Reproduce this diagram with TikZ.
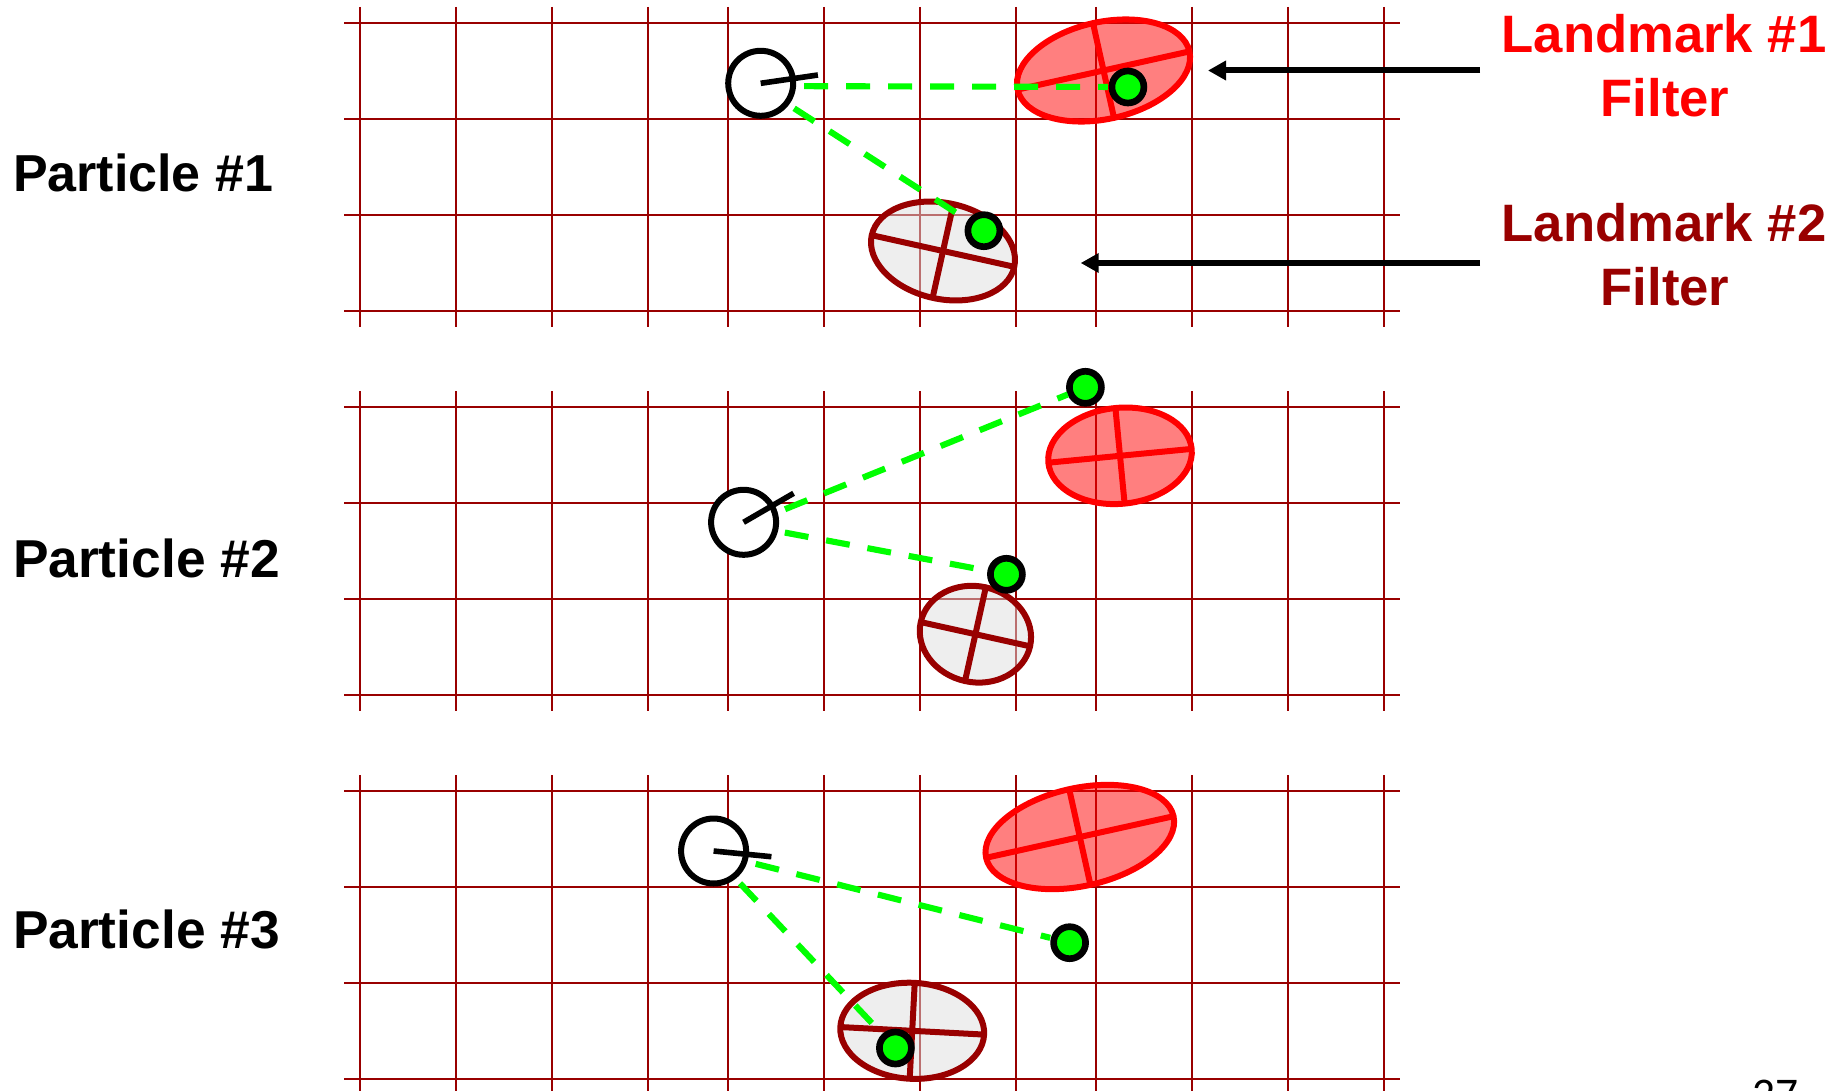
\documentclass[tikz,border=0pt]{standalone}
\usepackage{fontspec}
\setmainfont{Liberation Sans}
\newfontfamily\numfont{Carlito}
\usetikzlibrary{shapes.geometric,arrows.meta}
\definecolor{gridred}{HTML}{990000}
\definecolor{beamgreen}{HTML}{00FF00}
\tikzset{
  x=0.75pt, y=-0.75pt,
  gridline/.style={draw=gridred, line width=1.7pt},
  robot/.style={circle, draw=black, fill=white, line width=4.5pt, minimum size=48.75pt, inner sep=0pt, outer sep=0pt},
  heading/.style={draw=black, line width=4.2pt},
  dotmark/.style={circle, draw=black, fill=beamgreen, line width=5pt, minimum size=24pt, inner sep=0pt, outer sep=0pt},
  beam/.style 2 args={draw=beamgreen, line width=4.6pt, dash pattern=on 18pt off 13.5pt, shorten <=#1*0.75pt, shorten >=#2*0.75pt},
  filterbase/.style={ellipse, line width=4.5pt, inner sep=0pt, outer sep=0pt, fill opacity=0.5},
  lmone/.style={filterbase, draw=red, fill=red},
  lmtwo/.style={filterbase, draw=gridred, fill=black!13},
  axisone/.style={draw=red, line width=4.5pt},
  axistwo/.style={draw=gridred, line width=4.5pt},
  pointer/.style={draw=black, line width=4.5pt, -{Triangle[length=13.5pt,width=14pt]}},
  biglabel/.style={font=\bfseries\fontsize{39.5}{39.5}\selectfont, inner sep=0pt, outer sep=0pt},
  plabel/.style={biglabel, anchor=base west, text=black, font=\bfseries\fontsize{39}{39}\selectfont},
  plabelwide/.style={plabel, font=\bfseries\fontsize{40}{40}\selectfont},
  lmlabel/.style={biglabel, anchor=base},
}
\newcommand{\gridpanel}[2]{%
  \foreach \yy in {0,96,192,288} \draw[gridline] (344,#1+\yy) -- (1400,#1+\yy);
  \foreach \xx in {360,456,552,648,728,824,920,1016,1096,1192,1288,1384} \draw[gridline] (\xx,#1-16) -- (\xx,#2);
}
\begin{document}
\begin{tikzpicture}
\useasboundingbox (0,0) rectangle (1837,1091);
\clip (0,0) rectangle (1837,1091);
\gridpanel{23}{327}
\gridpanel{407}{711}
\gridpanel{791}{1095}

% Panel 1
\node[lmone, minimum width=132pt, minimum height=72.75pt, rotate=12.5] (ra) at (1103.5,70.5) {};
\draw[axisone] (ra.west) -- (ra.east);
\draw[axisone] (ra.north) -- (ra.south);
\node[lmtwo, minimum width=109.5pt, minimum height=72pt, rotate=-12.5] (ga) at (943,251) {};
\draw[axistwo] (ga.west) -- (ga.east);
\draw[axistwo] (ga.north) -- (ga.south);
\node[robot] (r1) at (760.7,83.3) {};
\coordinate (h1) at (817.9,75);
\draw[heading] (r1.center) -- (h1);
\node[dotmark] (d1a) at (1127.9,87) {};
\node[dotmark] (d1b) at (983.9,230.7) {};
\draw[beam={11}{4}] (r1.-5) -- (d1a);
\draw[beam={9.3}{1}] (r1.-38) -- (d1b);

% Panel 2
\node[lmone, minimum width=108pt, minimum height=72pt, rotate=5.5] (rb) at (1120,455.8) {};
\draw[axisone] (rb.west) -- (rb.east);
\draw[axisone] (rb.north) -- (rb.south);
\node[lmtwo, minimum width=84pt, minimum height=72pt, rotate=-12.5] (gb) at (975.4,634.2) {};
\draw[axistwo] (gb.west) -- (gb.east);
\draw[axistwo] (gb.north) -- (gb.south);
\node[robot] (r2) at (743.6,522.3) {};
\coordinate (h2) at (793.6,493.3);
\draw[heading] (r2.center) -- (h2);
\node[dotmark] (d2a) at (1085.4,387.3) {};
\node[dotmark] (d2b) at (1006.4,574.3) {};
\draw[beam={11}{3}] (r2.16.4) -- (d2a);
\draw[beam={10}{1}] (r2.-15) -- (d2b);

% Panel 3
\node[lmone, minimum width=144pt, minimum height=73.5pt, rotate=12.5] (rc) at (1079.8,837) {};
\draw[axisone] (rc.west) -- (rc.east);
\draw[axisone] (rc.north) -- (rc.south);
\node[lmtwo, minimum width=108pt, minimum height=72pt, rotate=-3] (gc) at (912.2,1030.8) {};
\draw[axistwo] (gc.west) -- (gc.east);
\draw[axistwo] (gc.north) -- (gc.south);
\node[robot] (r3) at (713.6,851) {};
\coordinate (h3) at (771.4,856.7);
\draw[heading] (r3.center) -- (h3);
\node[dotmark] (d3a) at (1069.6,942.7) {};
\node[dotmark] (d3b) at (895.4,1048) {};
\draw[beam={11.5}{4}] (r3.-18.5) -- (d3a);
\draw[beam={9.3}{2}] (r3.-52) -- (d3b);

% Labels
\node[plabel] (p1) at (13,192) {Particle \#1};
\node[plabelwide] (p2) at (13,577) {Particle \#2};
\node[plabelwide] (p3) at (13,948) {Particle \#3};
\node[lmlabel, text=red] (l1) at (1664,52.5) {Landmark \#1};
\node[lmlabel, text=red] (f1) at (1665,117) {Filter};
\node[lmlabel, text=gridred] (l2) at (1664,241.7) {Landmark \#2};
\node[lmlabel, text=gridred] (f2) at (1665,305) {Filter};

% Pointers
\coordinate (a1s) at (1480,70.5);
\coordinate (a1e) at (1208,70.5);
\coordinate (a2s) at (1480,263);
\coordinate (a2e) at (1080.7,263);
\draw[pointer] (a1s) -- (a1e);
\draw[pointer] (a2s) -- (a2e);

\node[anchor=base west, inner sep=0pt, font=\numfont\fontsize{34}{34}\selectfont] (pg) at (1752,1109) {27};
\end{tikzpicture}
\end{document}
